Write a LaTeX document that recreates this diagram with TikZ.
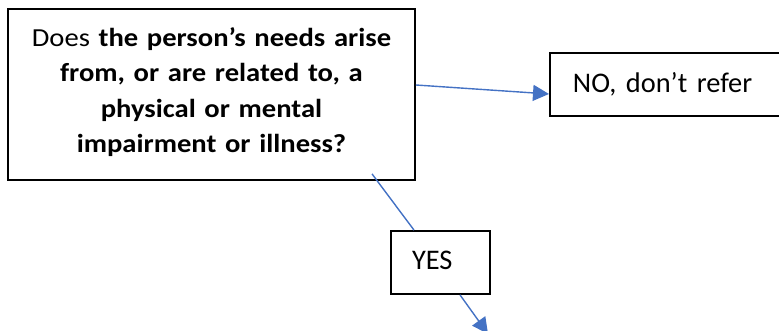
\documentclass[tikz,border=0pt]{standalone}
\usepackage{fontspec}
\setmainfont{Carlito}
\newfontfamily\wideboxfont{Carlito}[FakeStretch=1.1]
\usetikzlibrary{arrows.meta,calc}
\definecolor{conblue}{RGB}{68,114,196}
\tikzset{
  box/.style={draw=black, line width=1.8pt, rectangle, inner ysep=0pt},
  conn/.style={draw=conblue, line width=1.4pt},
  arr/.style={conn, -{Triangle[length=16pt,width=16pt]}},
}
\begin{document}
\begin{tikzpicture}[x=1pt,y=1pt]
\useasboundingbox (0,0) rectangle (779,331);
\clip (0,0) rectangle (779,331);
\node[box, minimum width=407pt, minimum height=171pt, inner xsep=0pt, text width=400pt, align=center,
      text height=10.4pt, text depth=106pt,
      font=\wideboxfont\fontsize{26}{35.3}\selectfont] (main) at (211.5,236.5)
  {Does \textbf{the person’s needs arise}\\ \textbf{from, or are related to, a}\\ \textbf{physical or mental}\\ \textbf{impairment or illness?}};
\node[box, anchor=west, minimum height=63pt, inner xsep=23pt, text width=210pt, align=left,
      text height=15.6pt, text depth=0pt,
      font=\fontsize{28.4}{34}\selectfont] (no) at (549,246.5) {NO, don’t refer};
\node[box, minimum height=63pt, inner xsep=21pt, text width=57pt, align=left,
      text height=15pt, text depth=0pt,
      font=\fontsize{28.4}{34}\selectfont] (yes) at (440.5,68.5) {YES};
\coordinate (yesIn) at ($(main.south)+(160.5,7)$);
\coordinate (down) at ($(yes.south)+(47.5,-39)$);
\draw[arr] ($(main.east)+(0,9.5)$) -- ($(no.west)+(0,-9.5)$);
\draw[conn] (yesIn) -- ($(yes.north)+(-26.5,0)$);
\draw[arr] ($(yes.south)+(19.5,0)$) -- (down);
\end{tikzpicture}
\end{document}
